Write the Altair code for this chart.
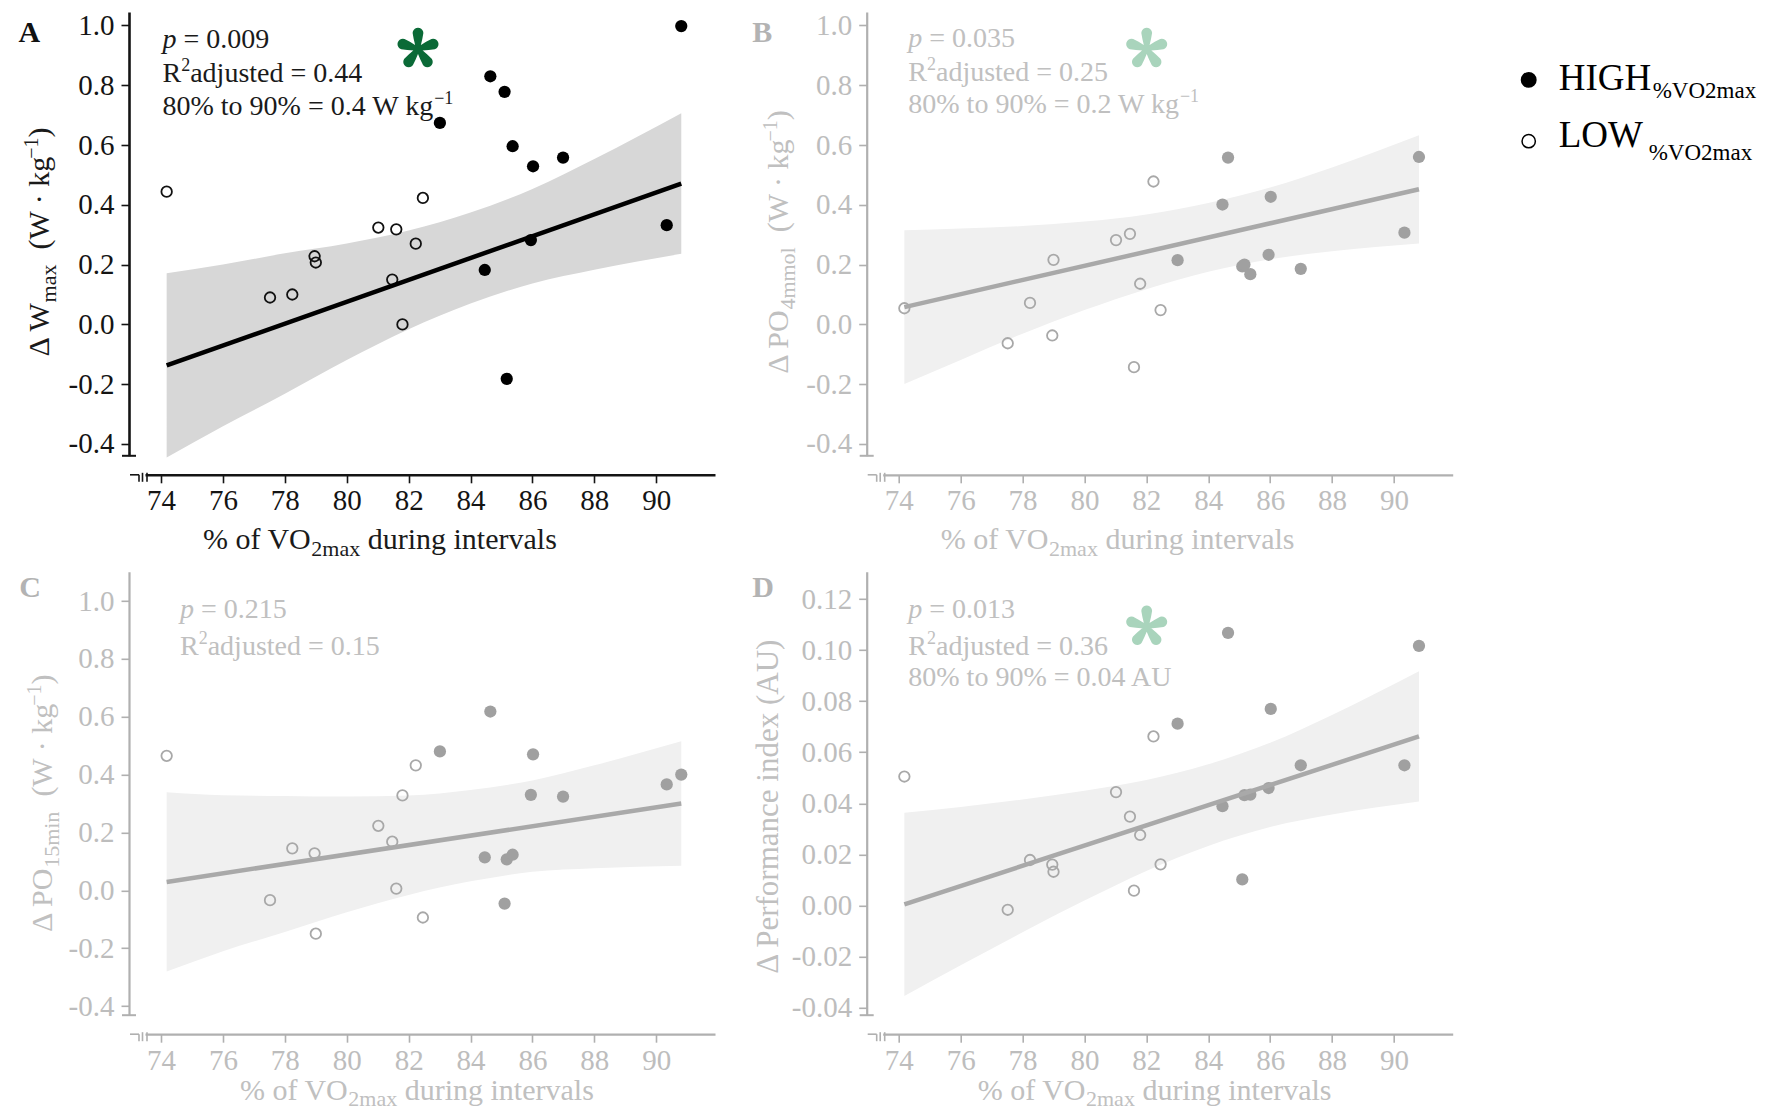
import numpy as np
import pandas as pd
import altair as alt

# ---------------- data ----------------
X_LOW = [74.18, 77.52, 78.24, 78.96, 79.00, 81.02, 81.47, 81.60, 81.80, 82.23, 82.46]
X_HIGH = [83.01, 84.46, 84.64, 85.10, 85.17, 85.36, 85.95, 86.02, 86.99, 90.34, 90.81]

A_LOW = [0.444, 0.090, 0.100, 0.228, 0.207, 0.324, 0.150, 0.318, 0.000, 0.270, 0.423]
A_HIGH = [0.674, 0.182, 0.830, 0.778, -0.182, 0.596, 0.282, 0.529, 0.558, 0.332, 0.998]
B_LOW = [0.054, -0.063, 0.072, -0.037, 0.216, 0.282, 0.303, -0.143, 0.136, 0.478, 0.048]
B_HIGH = [0.215, 0.401, 0.558, 0.194, 0.200, 0.168, 0.233, 0.427, 0.186, 0.307, 0.560]
C_LOW = [0.465, -0.034, 0.145, 0.128, -0.150, 0.223, 0.168, 0.006, 0.328, 0.432, -0.094]
C_HIGH = [0.480, 0.114, 0.618, -0.046, 0.107, 0.123, 0.330, 0.470, 0.324, 0.366, 0.400]
D_LOW = [0.0505, -0.0017, 0.0178, 0.0160, 0.0132, 0.0444, 0.0348, 0.0058, 0.0276, 0.0662, 0.0161]
D_HIGH = [0.0712, 0.0389, 0.1068, 0.0102, 0.0432, 0.0434, 0.0460, 0.0770, 0.0549, 0.0549, 0.1017]

# fitted lines (end points) and confidence bands
LINE_X = [74.18, 90.81]
A_LINE = [-0.137, 0.471]
B_LINE = [0.058, 0.452]
C_LINE = [0.029, 0.300]
D_LINE = [0.0004, 0.0662]

BAND_X = [74.18, 76, 78, 80, 82, 84, 86, 88, 90.81]
A_UP = [0.171, 0.200, 0.238, 0.271, 0.314, 0.374, 0.453, 0.553, 0.706]
A_LO = [-0.445, -0.341, -0.232, -0.119, -0.016, 0.070, 0.137, 0.183, 0.236]
B_UP = [0.315, 0.321, 0.329, 0.344, 0.368, 0.406, 0.458, 0.525, 0.633]
B_LO = [-0.199, -0.119, -0.031, 0.048, 0.118, 0.176, 0.218, 0.245, 0.271]
C_UP = [0.339, 0.329, 0.326, 0.324, 0.328, 0.347, 0.380, 0.432, 0.515]
C_LO = [-0.281, -0.211, -0.144, -0.076, -0.016, 0.031, 0.064, 0.076, 0.085]
D_UP = [0.0363, 0.0386, 0.0415, 0.0449, 0.0491, 0.0553, 0.0637, 0.0746, 0.0917]
D_LO = [-0.0355, -0.0234, -0.0105, 0.0019, 0.0135, 0.0233, 0.0307, 0.0356, 0.0407]

X_TICKS = [74, 76, 78, 80, 82, 84, 86, 88, 90]
Y_TICKS_W = [-0.4, -0.2, 0.0, 0.2, 0.4, 0.6, 0.8, 1.0]
Y_TICKS_D = [-0.04, -0.02, 0.0, 0.02, 0.04, 0.06, 0.08, 0.10, 0.12]
GROUPS = ["HIGH", "LOW"]
GROUP_SUB = "%VO2max"

# ---------------- style ----------------
SERIF = "Liberation Serif"
PW = 570
H1, H2 = 443.8, 443.4
XDOM = [73.48, 91.9]

CW = {' ': 250, '%': 833, '.': 250, '=': 564, '-': 333, '\u2212': 564, '(': 333, ')': 333,
      '\u00b7': 250, 'A': 722, 'D': 722, 'G': 722, 'H': 722, 'I': 333, 'L': 611, 'O': 722,
      'P': 556, 'R': 667, 'U': 722, 'V': 722, 'W': 944, '\u0394': 612, 'a': 444, 'c': 444,
      'd': 500, 'e': 444, 'f': 333, 'g': 500, 'i': 278, 'j': 278, 'k': 500, 'l': 278,
      'm': 778, 'n': 500, 'o': 500, 'p': 500, 'r': 333, 's': 389, 't': 278, 'u': 500,
      'v': 500, 'x': 500}


def tw(s, size):
    return sum(CW.get(c, 500) for c in s) / 1000.0 * size


def asterisk_path():
    """Five tear-drop arms, as a symbol shape in the unit square."""
    parts = []
    for k in range(5):
        th = np.deg2rad(-90 + 72 * k)
        u = np.array([np.cos(th), np.sin(th)])
        v = np.array([-np.sin(th), np.cos(th)])
        pts = [0.09 * v, 0.46 * u + 0.2 * v]
        tip = 0.74 * u
        for a in np.linspace(90, -90, 11):
            ar = np.deg2rad(a)
            pts.append(tip + 0.25 * (np.sin(ar) * v + np.cos(ar) * u))
        pts += [0.46 * u - 0.2 * v, -0.09 * v]
        parts.append("M" + "L".join("%.3f,%.3f" % (q[0], q[1]) for q in pts) + "Z")
    return "".join(parts)


STAR_PATH = asterisk_path()


def text_layer(txt, x, y, size, color, angle=0, italic=False, bold=False, align="left"):
    df = pd.DataFrame({"t": [txt]})
    return alt.Chart(df).mark_text(
        align=align, baseline="alphabetic", font=SERIF, fontSize=size, color=color,
        angle=angle, fontStyle="italic" if italic else "normal",
        fontWeight="bold" if bold else "normal",
    ).encode(text="t:N", x=alt.value(x), y=alt.value(y))


def run(segs, x, y, color, rotate=False):
    out = []
    pos = 0.0
    for txt, size, shift, italic in segs:
        lead = len(txt) - len(txt.lstrip(" "))
        pos += tw(" " * lead, size)
        body = txt.lstrip(" ")
        if rotate:
            out.append(text_layer(body, x + shift, y - pos, size, color, angle=270, italic=italic))
        else:
            out.append(text_layer(body, x + pos, y + shift, size, color, italic=italic))
        pos += tw(body, size)
    return out


def seglen(segs):
    return sum(tw(t, s) for t, s, _, _ in segs)


def rule(x1, x2, y1, y2, color, w=1.6):
    df = pd.DataFrame({"k": [0]})
    return alt.Chart(df).mark_rule(color=color, strokeWidth=w).encode(
        x=alt.value(x1), x2=alt.value(x2), y=alt.value(y1), y2=alt.value(y2))


BLACK = dict(lab="#141414", axis="#141414", dw=2.6, pt="#000000", open="#111111",
             line="#000000", band="#d7d7d7", star="#0b6a37", txt="#1a1a1a", letter="#111111")
GRAY = dict(lab="#bdbdbd", axis="#b0b0b0", dw=2.2, pt="#a0a0a0", open="#a8a8a8",
            line="#a9a9a9", band="#f0f0f0", star="#a9d4bc", txt="#c0c0c0", letter="#b3b3b3")


def legend_layers(x0):
    out = []
    hi = pd.DataFrame({"g": [GROUPS[0]]})
    lo = pd.DataFrame({"g": [GROUPS[1]]})
    out.append(alt.Chart(hi).mark_circle(size=254, color="#000000", opacity=1)
               .encode(x=alt.value(x0), y=alt.value(67.9)))
    out.append(alt.Chart(lo).mark_point(filled=False, shape="circle", size=177, strokeWidth=1.5,
                                        color="#000000", opacity=1)
               .encode(x=alt.value(x0), y=alt.value(129.2)))
    out.append(text_layer(GROUPS[0], x0 + 30, 77.9, 37, "#000000"))
    out.append(text_layer(GROUPS[1], x0 + 30, 134.6, 37, "#000000"))
    out.append(text_layer(GROUP_SUB, x0 + 124, 86.2, 23, "#000000"))
    out.append(text_layer(GROUP_SUB, x0 + 120, 147.6, 23, "#000000"))
    return out


def panel(p):
    st = p["style"]
    H = p["H"]
    fmt = p["fmt"]
    xscale = alt.Scale(domain=XDOM, nice=False, zero=False)
    yscale = alt.Scale(domain=p["ydom"], nice=False, zero=False)
    xaxis = alt.Axis(values=X_TICKS, title=None, grid=False, offset=19, tickSize=8,
                     tickWidth=1.6, domainWidth=st["dw"], domainColor=st["axis"],
                     tickColor=st["axis"], labelColor=st["lab"], labelFont=SERIF,
                     labelFontSize=29, labelPadding=4, format="d", labelOverlap=False)
    yaxis = alt.Axis(values=p["yticks"], title=None, grid=False, offset=16, tickSize=8,
                     tickWidth=1.6, domainWidth=st["dw"], domainColor=st["axis"],
                     tickColor=st["axis"], labelColor=st["lab"], labelFont=SERIF,
                     labelFontSize=29, labelPadding=7, labelOverlap=False,
                     labelExpr="(datum.value < 0 ? '-' : '') + format(abs(datum.value), '%s')" % fmt)

    def enc(xf, yf):
        return dict(x=alt.X(xf, type="quantitative", scale=xscale, axis=xaxis),
                    y=alt.Y(yf, type="quantitative", scale=yscale, axis=yaxis))

    band_df = pd.DataFrame({"x": BAND_X, "lo": p["lo"], "hi": p["up"]})
    line_df = pd.DataFrame({"x": LINE_X, "y": p["line"]})
    low_df = pd.DataFrame({"x": X_LOW, "y": p["low"]})
    high_df = pd.DataFrame({"x": X_HIGH, "y": p["high"]})

    layers = [
        alt.Chart(band_df).mark_area(color=st["band"], opacity=1, interpolate="monotone")
        .encode(**enc("x", "lo"), y2=alt.Y2("hi")),
        alt.Chart(low_df).mark_point(filled=False, shape="circle", size=110, strokeWidth=1.8,
                                     color=st["open"], opacity=1).encode(**enc("x", "y")),
        alt.Chart(high_df).mark_circle(size=150, color=st["pt"], opacity=1).encode(**enc("x", "y")),
        alt.Chart(line_df).mark_line(color=st["line"], strokeWidth=4.5).encode(**enc("x", "y")),
    ]

    layers.append(text_layer(p["letter"], p["letter_x"], p["letter_y"], 30, st["letter"], bold=True))

    ax, ays = p["ann_x"], p["ann_y"]
    layers += run([("p", 28, 0, True), (" = " + p["pval"], 28, 0, False)], ax, ays[0], st["txt"])
    layers += run([("R", 28, 0, False), ("2", 18, -11, False), ("adjusted = " + p["r2"], 28, 0, False)],
                  ax, ays[1], st["txt"])
    if p.get("eff"):
        segs = [(p["eff"], 28, 0, False)]
        if p.get("eff_sup"):
            segs.append(("\u22121", 18, -11, False))
        layers += run(segs, ax, ays[2], st["txt"])

    if p.get("star"):
        layers.append(
            alt.Chart(pd.DataFrame({"k": ["*"]}))
            .mark_point(shape=STAR_PATH, filled=True, size=1850, color=st["star"], opacity=1,
                        strokeWidth=0)
            .encode(x=alt.value(p["star_x"]), y=alt.value(p["star_y"]))
        )

    xsegs = [("% of VO", 30, 0, False), ("2max", 22, p["xt_sub"], False), (" during intervals", 30, 0, False)]
    layers += run(xsegs, p["xt_x"], H + p["xt_dy"], st["txt"])

    ysegs = p["ysegs"]
    start = p["yt_c"] + seglen(ysegs) / 2.0
    layers += run(ysegs, p["yt_x"], start, st["txt"], rotate=True)

    layers += [
        rule(-23, -9, H, H, st["axis"], 2),
        rule(-15, -6, H + 19, H + 19, st["axis"]),
        rule(-6, -6, H + 19, H + 26, st["axis"]),
        rule(-2.5, -2.5, H + 17, H + 26, st["axis"]),
        rule(2, 2, H + 17, H + 26, st["axis"]),
    ]

    if p.get("legend"):
        layers += legend_layers(p["legend"])

    return alt.layer(*layers).properties(width=PW, height=H)


KG = [("  (W \u00b7 kg", 30, 0, False), ("\u22121", 20, -11, False), (")", 30, 0, False)]

pA = dict(style=BLACK, H=H1, ydom=[-0.4395, 1.045], yticks=Y_TICKS_W, fmt=".1f",
          low=A_LOW, high=A_HIGH, line=A_LINE, up=A_UP, lo=A_LO,
          letter="A", letter_x=-126.6, letter_y=30,
          ann_x=17.5, ann_y=[35.5, 70, 103], pval="0.009", r2="0.44",
          eff="80% to 90% = 0.4 W kg", eff_sup=True,
          star=True, star_x=273, star_y=37, xt_x=58, xt_dy=93, xt_sub=7,
          ysegs=[("\u0394 W", 30, 0, False), ("max", 22, 7, False)] + KG, yt_c=230, yt_x=-96)
pB = dict(style=GRAY, H=H1, ydom=[-0.4395, 1.045], yticks=Y_TICKS_W, fmt=".1f",
          low=B_LOW, high=B_HIGH, line=B_LINE, up=B_UP, lo=B_LO,
          letter="B", letter_x=-130.4, letter_y=30,
          ann_x=25.6, ann_y=[35, 69, 101], pval="0.035", r2="0.25",
          eff="80% to 90% = 0.2 W kg", eff_sup=True,
          star=True, star_x=264, star_y=37, xt_x=58, xt_dy=93, xt_sub=7,
          ysegs=[("\u0394 PO", 30, 0, False), ("4mmol", 22, 7, False)] + KG, yt_c=230, yt_x=-95,
          legend=646)
pC = dict(style=GRAY, H=H2, ydom=[-0.4317, 1.101], yticks=Y_TICKS_W, fmt=".1f",
          low=C_LOW, high=C_HIGH, line=C_LINE, up=C_UP, lo=C_LO,
          letter="C", letter_x=-125.7, letter_y=25.5,
          ann_x=35, ann_y=[46.3, 83.3], pval="0.215", r2="0.15",
          star=False, xt_x=95, xt_dy=85, xt_sub=6,
          ysegs=[("\u0394 PO", 30, 0, False), ("15min", 22, 7, False)] + KG, yt_c=231.5, yt_x=-93)
pD = dict(style=GRAY, H=H2, ydom=[-0.0430, 0.1307], yticks=Y_TICKS_D, fmt=".2f",
          low=D_LOW, high=D_HIGH, line=D_LINE, up=D_UP, lo=D_LO,
          letter="D", letter_x=-130.4, letter_y=25.5,
          ann_x=25.6, ann_y=[46.3, 83.3, 114], pval="0.013", r2="0.36",
          eff="80% to 90% = 0.04 AU", eff_sup=False,
          star=True, star_x=264, star_y=55, xt_x=95, xt_dy=85, xt_sub=6,
          ysegs=[("\u0394 Performance index (AU)", 31, 0, False)], yt_c=234.5, yt_x=-105)

chA, chB, chC, chD = panel(pA), panel(pB), panel(pC), panel(pD)

chart = alt.concat(chA, chB, chC, chD, columns=2,
                   spacing={"row": 115.8, "column": 167.7}, bounds="flush").properties(
    padding={"left": 10, "top": 3, "right": 0, "bottom": 0}, background="white"
).configure_view(stroke=None)

chart.save("out.html", embed_options={"renderer": "svg", "actions": False})
